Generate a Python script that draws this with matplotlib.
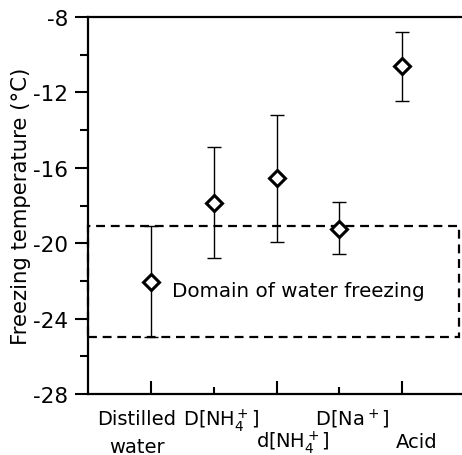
import matplotlib
matplotlib.use('Agg')
import matplotlib.pyplot as plt
from matplotlib.patches import Rectangle

plt.rcParams['font.family'] = ['DejaVu Sans']
plt.rcParams['mathtext.fontset'] = 'dejavusans'
plt.rcParams['axes.unicode_minus'] = False

# data
samples = ["Distilled\nwater", r"D[NH$_4^+$]", r"d[NH$_4^+$]", r"D[Na$^+$]", "Acid"]
positions = [1, 2, 3, 4, 5]
temp_mean = [-22.05, -17.87, -16.56, -19.25, -10.62]
err_low = [-24.96, -20.8, -19.92, -20.57, -12.44]
err_high = [-19.1, -14.91, -13.2, -17.8, -8.78]
# label placement in px: horizontal shift, depth of last baseline below axis
label_dx = [-14, 8, 16, 13, 14]
label_dy = [58, 31, 53, 31, 53]

domain_top = -19.1
domain_bottom = -24.96

lower = [m - lo for m, lo in zip(temp_mean, err_low)]
upper = [hi - m for m, hi in zip(temp_mean, err_high)]

fig = plt.figure(figsize=(4.62, 4.56), dpi=100)
ax = fig.add_axes([88 / 462, 61 / 456, 377 / 462, 377 / 456])

ax.errorbar(positions, temp_mean, yerr=[lower, upper], fmt='none',
            ecolor='black', elinewidth=1.0, capsize=4.8, capthick=1.0, zorder=2)
ax.plot(positions, temp_mean, linestyle='none', marker='D', markersize=8.5,
        markerfacecolor='white', markeredgecolor='black', markeredgewidth=2.2, zorder=3)

# domain of water freezing
ax.add_patch(Rectangle((0, domain_bottom), 5.9, domain_top - domain_bottom,
                       fill=False, edgecolor='black', linewidth=1.6,
                       linestyle=(0, (4, 2.6)), clip_on=False, zorder=1))
ax.text(1.33, -22.5, "Domain of water freezing", fontsize=14.3, va='center', ha='left')

ax.set_xlim(0, 6)
ax.set_ylim(-28, -8)
ax.set_yticks(range(-28, -7, 4))
ax.set_yticks(range(-26, -9, 4), minor=True)
ax.set_xticks([1, 3, 5])
ax.set_xticks([2, 4], minor=True)
ax.tick_params(axis='x', which='major', direction='in', length=9.4, width=1.5, labelbottom=False)
ax.tick_params(axis='x', which='minor', direction='in', length=5, width=1.5)
ax.tick_params(axis='y', which='major', direction='out', length=9.4, width=1.5, labelsize=15.5, pad=5)
ax.tick_params(axis='y', which='minor', direction='out', length=5.8, width=1.5)
ax.spines['right'].set_visible(False)
for side in ['left', 'top', 'bottom']:
    ax.spines[side].set_linewidth(1.6)

ax.set_ylabel("Freezing temperature (\u00b0C)", fontsize=15.3, va='center')
ax.yaxis.set_label_coords(-67 / 377, 0.5)

for x, name, dx, dy in zip(positions, samples, label_dx, label_dy):
    ax.annotate(name, xy=(x, 0), xycoords=('data', 'axes fraction'),
                xytext=(dx * 0.72, -dy * 0.72), textcoords='offset points',
                ha='center', va='baseline', fontsize=14, linespacing=1.6)

plt.savefig('out.png', dpi=100)
